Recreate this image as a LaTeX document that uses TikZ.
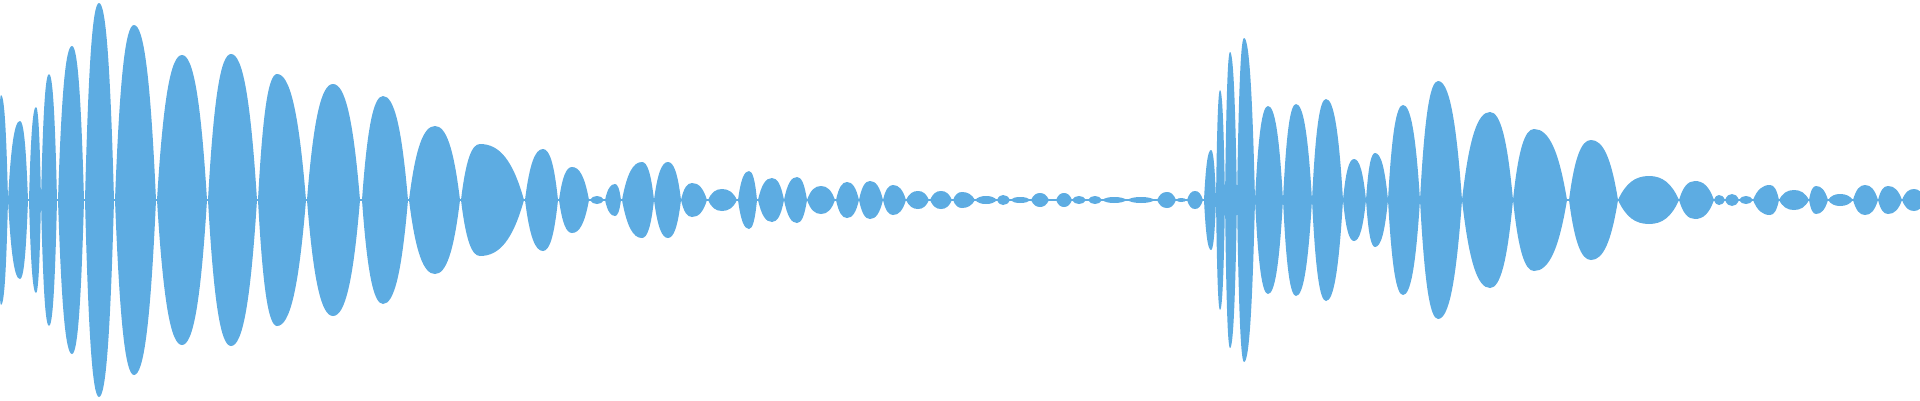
\documentclass[tikz,border=0pt]{standalone}
\definecolor{wv}{HTML}{5DACE2}
\tikzset{wave/.style={fill=wv}}
\newcommand\wlobe[4]{%
 \pgfmathsetmacro\wa{200-#4}%
 \pgfmathsetmacro\wl{#2-#1}\pgfmathsetmacro\wr{#3-#2}%
 \fill[wave] (#1,0) .. controls ({#1+0.25*\wl},{0.7*\wa}) and ({#2-0.45*\wl},\wa) .. (#2,\wa)
   .. controls ({#2+0.45*\wr},\wa) and ({#3-0.25*\wr},{0.7*\wa}) .. (#3,0)
   .. controls ({#3-0.25*\wr},{-0.7*\wa}) and ({#2+0.45*\wr},-\wa) .. (#2,-\wa)
   .. controls ({#2-0.45*\wl},-\wa) and ({#1+0.25*\wl},{-0.7*\wa}) .. (#1,0) -- cycle;}
\begin{document}
\begin{tikzpicture}[x=1pt,y=1pt]
\useasboundingbox (0,-200) rectangle (1920,200);
\fill[wave] (0,-0.7) rectangle (1920,0.7);
\wlobe{-2}{1}{8}{95}
\wlobe{8}{20}{28}{121}
\wlobe{29}{36}{41}{107}
\wlobe{41}{49}{57}{74}
\wlobe{58}{72}{84}{46}
\wlobe{85}{99}{114}{3}
\wlobe{115}{134}{156}{25}
\wlobe{157}{182}{207}{55}
\wlobe{208}{231}{257}{54}
\wlobe{258}{277}{306}{74}
\wlobe{307}{333}{360}{84}
\wlobe{362}{383}{408}{96}
\wlobe{409}{435}{460}{126}
\wlobe{461}{480}{524}{144}
\wlobe{525}{543}{558}{149}
\wlobe{559}{572}{589}{167}
\wlobe{590}{597}{604}{196}
\wlobe{605}{615}{621}{184}
\wlobe{622}{642}{654}{162}
\wlobe{654}{668}{681}{162}
\wlobe{681}{692}{707}{183}
\wlobe{708}{722}{737}{189}
\wlobe{738}{749}{757}{171}
\wlobe{758}{772}{784}{178}
\wlobe{784}{797}{807}{177}
\wlobe{807}{821}{835}{186}
\wlobe{836}{847}{859}{182}
\wlobe{859}{870}{883}{181}
\wlobe{883}{893}{906}{185}
\wlobe{906}{918}{929}{191}
\wlobe{930}{941}{952}{191}
\wlobe{953}{962}{975}{192}
\wlobe{975}{986}{997}{196}
\wlobe{997}{1003}{1010}{195}
\wlobe{1010}{1020}{1031}{197}
\wlobe{1031}{1040}{1049}{193}
\wlobe{1056}{1064}{1072}{193}
\wlobe{1072}{1079}{1086}{196}
\wlobe{1088}{1095}{1102}{196}
\wlobe{1102}{1114}{1127}{197}
\wlobe{1127}{1141}{1155}{197}
\wlobe{1157}{1167}{1176}{192}
\wlobe{1176}{1181}{1187}{198}
\wlobe{1187}{1195}{1203}{191}
\wlobe{1204}{1211}{1216}{150}
\wlobe{1216}{1220}{1225}{90}
\wlobe{1225}{1230}{1237}{52}
\wlobe{1237}{1244}{1255}{38}
\wlobe{1255}{1268}{1283}{106}
\wlobe{1283}{1296}{1312}{104}
\wlobe{1312}{1326}{1343}{99}
\wlobe{1343}{1354}{1366}{159}
\wlobe{1366}{1375}{1388}{153}
\wlobe{1388}{1403}{1420}{105}
\wlobe{1420}{1438}{1462}{81}
\wlobe{1462}{1490}{1513}{112}
\wlobe{1513}{1534}{1567}{129}
\wlobe{1569}{1591}{1618}{140}
\wlobe{1618}{1649}{1679}{176}
\wlobe{1679}{1695}{1714}{181}
\wlobe{1714}{1719}{1725}{195}
\wlobe{1725}{1732}{1739}{194}
\wlobe{1739}{1746}{1753}{196}
\wlobe{1753}{1770}{1779}{185}
\wlobe{1779}{1794}{1809}{190}
\wlobe{1809}{1816}{1828}{186}
\wlobe{1828}{1840}{1853}{194}
\wlobe{1853}{1865}{1878}{185}
\wlobe{1878}{1888}{1902}{186}
\wlobe{1902}{1914}{1925}{189}
\end{tikzpicture}
\end{document}
